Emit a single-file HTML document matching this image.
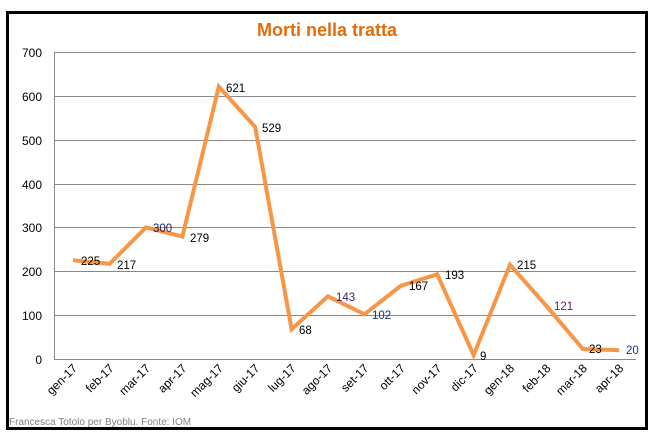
<!DOCTYPE html><html><head><style>body{margin:0;background:#fff}svg{display:block}</style></head><body>
<svg width="655" height="439" xmlns="http://www.w3.org/2000/svg" font-family="Liberation Sans, Arial, sans-serif">
<rect x="0" y="0" width="655" height="439" fill="#fff"/>
<rect x="7.5" y="12.5" width="639" height="416" fill="#fff" stroke="#000" stroke-width="3"/>
<text x="327" y="36" text-anchor="middle" font-size="18" font-weight="bold" fill="#E46C0A">Morti nella tratta</text>
<g stroke="#888" stroke-width="1">
<line x1="55" y1="52.5" x2="636" y2="52.5"/><line x1="55" y1="96.5" x2="636" y2="96.5"/><line x1="55" y1="140.5" x2="636" y2="140.5"/><line x1="55" y1="184.5" x2="636" y2="184.5"/><line x1="55" y1="227.5" x2="636" y2="227.5"/><line x1="55" y1="271.5" x2="636" y2="271.5"/><line x1="55" y1="315.5" x2="636" y2="315.5"/><line x1="55" y1="359.5" x2="636" y2="359.5"/><line x1="54.5" y1="52" x2="54.5" y2="360"/>
</g>
<g font-size="12" text-anchor="end" fill="#000">
<text x="42" y="57">700</text><text x="42" y="101">600</text><text x="42" y="145">500</text><text x="42" y="189">400</text><text x="42" y="232">300</text><text x="42" y="276">200</text><text x="42" y="320">100</text><text x="42" y="364">0</text>
</g>
<polyline fill="none" stroke="#F79646" stroke-width="4" stroke-linejoin="miter" points="73,260.3 109.6,263.8 146,227.4 182.4,236.6 218.8,86.6 255.2,127 291.6,329.2 328,296.3 364.4,314.3 400.8,285.8 437.2,274.3 473.6,355.1 510,264.7 546.4,306 582.8,348.9 619.2,350.2"/>
<g font-size="11.5" fill="#000">
<text x="81" y="265">225</text><text x="117" y="269">217</text><text x="153" y="232" fill="#1F1F5F">300</text><text x="190" y="242">279</text><text x="226" y="92">621</text><text x="262" y="132">529</text><text x="299" y="334">68</text><text x="336" y="301" fill="#3F1F5F">143</text><text x="372" y="319" fill="#1F2F7F">102</text><text x="409" y="290">167</text><text x="445" y="279">193</text><text x="480" y="360">9</text><text x="517" y="269">215</text><text x="554" y="310" fill="#5F1F5F">121</text><text x="589" y="353">23</text><text x="626" y="354" fill="#1F2F7F">20</text>
</g>
<g font-size="12" text-anchor="end" fill="#000">
<text transform="translate(78,369) rotate(-45)">gen-17</text>
<text transform="translate(114.6,369) rotate(-45)">feb-17</text>
<text transform="translate(151,369) rotate(-45)">mar-17</text>
<text transform="translate(187.4,369) rotate(-45)">apr-17</text>
<text transform="translate(223.8,369) rotate(-45)">mag-17</text>
<text transform="translate(260.2,369) rotate(-45)">giu-17</text>
<text transform="translate(296.6,369) rotate(-45)">lug-17</text>
<text transform="translate(333,369) rotate(-45)">ago-17</text>
<text transform="translate(369.4,369) rotate(-45)">set-17</text>
<text transform="translate(405.8,369) rotate(-45)">ott-17</text>
<text transform="translate(442.2,369) rotate(-45)">nov-17</text>
<text transform="translate(478.6,369) rotate(-45)">dic-17</text>
<text transform="translate(515,369) rotate(-45)">gen-18</text>
<text transform="translate(551.4,369) rotate(-45)">feb-18</text>
<text transform="translate(587.8,369) rotate(-45)">mar-18</text>
<text transform="translate(624.2,369) rotate(-45)">apr-18</text>
</g>
<text x="9" y="425" font-size="10" fill="#808080">Francesca Totolo per Byoblu. Fonte: IOM</text>
</svg>
</body></html>
